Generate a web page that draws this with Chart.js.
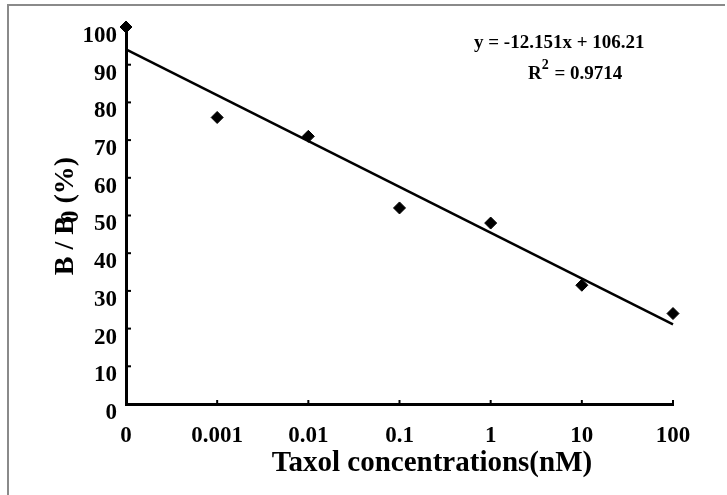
<!DOCTYPE html>
<html>
<head>
<meta charset="utf-8">
<script src="https://cdn.jsdelivr.net/npm/chart.js@4"></script>
<style>
	html, body { margin: 0; padding: 0; background: #fff; }
	#wrap { width: 727px; height: 495px; }
</style>
</head>
<body>
<div id="wrap"><canvas id="taxolChart" width="727" height="495"></canvas></div>
<script>
// concentration categories (nM), placed at positions 1..7
var concLabels = ['0', '0.001', '0.01', '0.1', '1', '10', '100'];
var concPos = [1, 2, 3, 4, 5, 6, 7];
// B / B0 (%)
var bindValues = [100, 76, 71, 52, 48, 31.5, 24];
// linear trend end points
var trendPos = [1, 7];
var trendValues = [94.06, 21.15];
var yTicks = [0, 10, 20, 30, 40, 50, 60, 70, 80, 90, 100];

var serif = '"Liberation Serif", "Times New Roman", serif';

// frame, inner ticks, axis titles and the fit equation
var extras = {
	id: 'extras',
	beforeDraw: function(chart){
		var c = chart.ctx;
		c.save();
		c.fillStyle = '#fff';
		c.fillRect(0, 0, chart.width, chart.height);
		c.strokeStyle = '#8a8a8a';
		c.lineWidth = 2;
		c.beginPath();
		c.moveTo(8, 495);
		c.lineTo(8, 5);
		c.lineTo(725, 5);
		c.stroke();
		c.restore();
	},
	afterDraw: function(chart){
		var c = chart.ctx;
		var xs = chart.scales.x, ys = chart.scales.y;
		var area = chart.chartArea;
		c.save();
		c.strokeStyle = '#000';
		c.lineWidth = 2;
		yTicks.forEach(function(v){
			var py = ys.getPixelForValue(v);
			c.beginPath();
			c.moveTo(area.left, py);
			c.lineTo(area.left + 5, py);
			c.stroke();
		});
		concPos.forEach(function(p){
			var px = xs.getPixelForValue(p);
			c.beginPath();
			c.moveTo(px, area.bottom);
			c.lineTo(px, area.bottom - 4);
			c.stroke();
		});

		c.fillStyle = '#000';
		// x title
		c.font = 'bold 29px ' + serif;
		c.textAlign = 'center';
		c.textBaseline = 'middle';
		c.fillText('Taxol concentrations(nM)', 432, 464);

		// y title with subscript
		c.save();
		c.translate(66, 216);
		c.rotate(-Math.PI / 2);
		c.textAlign = 'left';
		c.textBaseline = 'middle';
		var p1 = 'B / B', p3 = ' (%)';
		c.font = 'bold 28px ' + serif;
		var w1 = c.measureText(p1).width;
		var w3 = c.measureText(p3).width;
		c.font = 'bold 25px ' + serif;
		var w2 = c.measureText('0').width - 7;
		var total = w1 + w2 + w3;
		var sx = -total / 2;
		c.font = 'bold 28px ' + serif;
		c.fillText(p1, sx, 0);
		c.font = 'bold 25px ' + serif;
		c.fillText('0', sx + w1 - 7, 6);
		c.font = 'bold 28px ' + serif;
		c.fillText(p3, sx + w1 + w2, 0);
		c.restore();

		// fit equation
		c.font = 'bold 19px ' + serif;
		c.textAlign = 'left';
		c.textBaseline = 'middle';
		c.fillText('y = -12.151x + 106.21', 474, 43);
		c.fillText('R', 528, 74);
		var rw = c.measureText('R').width;
		c.font = 'bold 14px ' + serif;
		c.fillText('2', 528 + rw, 65);
		var sw = c.measureText('2').width;
		c.font = 'bold 19px ' + serif;
		c.fillText(' = 0.9714', 528 + rw + sw + 1, 74);
		c.restore();
	}
};

function toPoints(xv, yv){
	var out = [];
	for(var i = 0; i < xv.length; i++)
		out.push({x: xv[i], y: yv[i]});
	return out;
}

var chart = new Chart(document.getElementById('taxolChart'), {
	type: 'scatter',
	data: {
		datasets: [
		{
			label: 'B/B0',
			data: toPoints(concPos, bindValues),
			pointStyle: 'rectRot',
			pointRadius: 6,
			backgroundColor: '#000',
			borderColor: '#000',
			showLine: false,
			clip: false
		},
		{
			label: 'Linear',
			data: toPoints(trendPos, trendValues),
			showLine: true,
			borderColor: '#000',
			borderWidth: 2.5,
			pointRadius: 0,
			clip: false
		}
		]
	},
	options: {
		responsive: false,
		animation: false,
		layout: { padding: { top: 27, right: 54, left: 0, bottom: 0 } },
		plugins: {
			legend: { display: false },
			tooltip: { enabled: false }
		},
		scales: {
			x: {
				type: 'linear',
				min: 1,
				max: 7,
				afterFit: function(s){ s.height = 91; },
				afterBuildTicks: function(s){
					s.ticks = concPos.map(function(p){ return {value: p}; });
				},
				grid: { display: false, drawTicks: false },
				border: { color: '#000', width: 3 },
				ticks: {
					padding: 18,
					color: '#000',
					font: { family: serif, size: 23, weight: 'bold' },
					callback: function(v){ return concLabels[v - 1]; }
				}
			},
			y: {
				min: 0,
				max: 100,
				afterFit: function(s){ s.width = 126; },
				afterBuildTicks: function(s){
					s.ticks = yTicks.map(function(v){ return {value: v}; });
				},
				grid: { display: false, drawTicks: false },
				border: { color: '#000', width: 3 },
				ticks: {
					padding: 9,
					labelOffset: 9,
					color: '#000',
					font: { family: serif, size: 23, weight: 'bold' }
				}
			}
		}
	},
	plugins: [extras]
});
console.log('taxolChart was built');
</script>
</body>
</html>
